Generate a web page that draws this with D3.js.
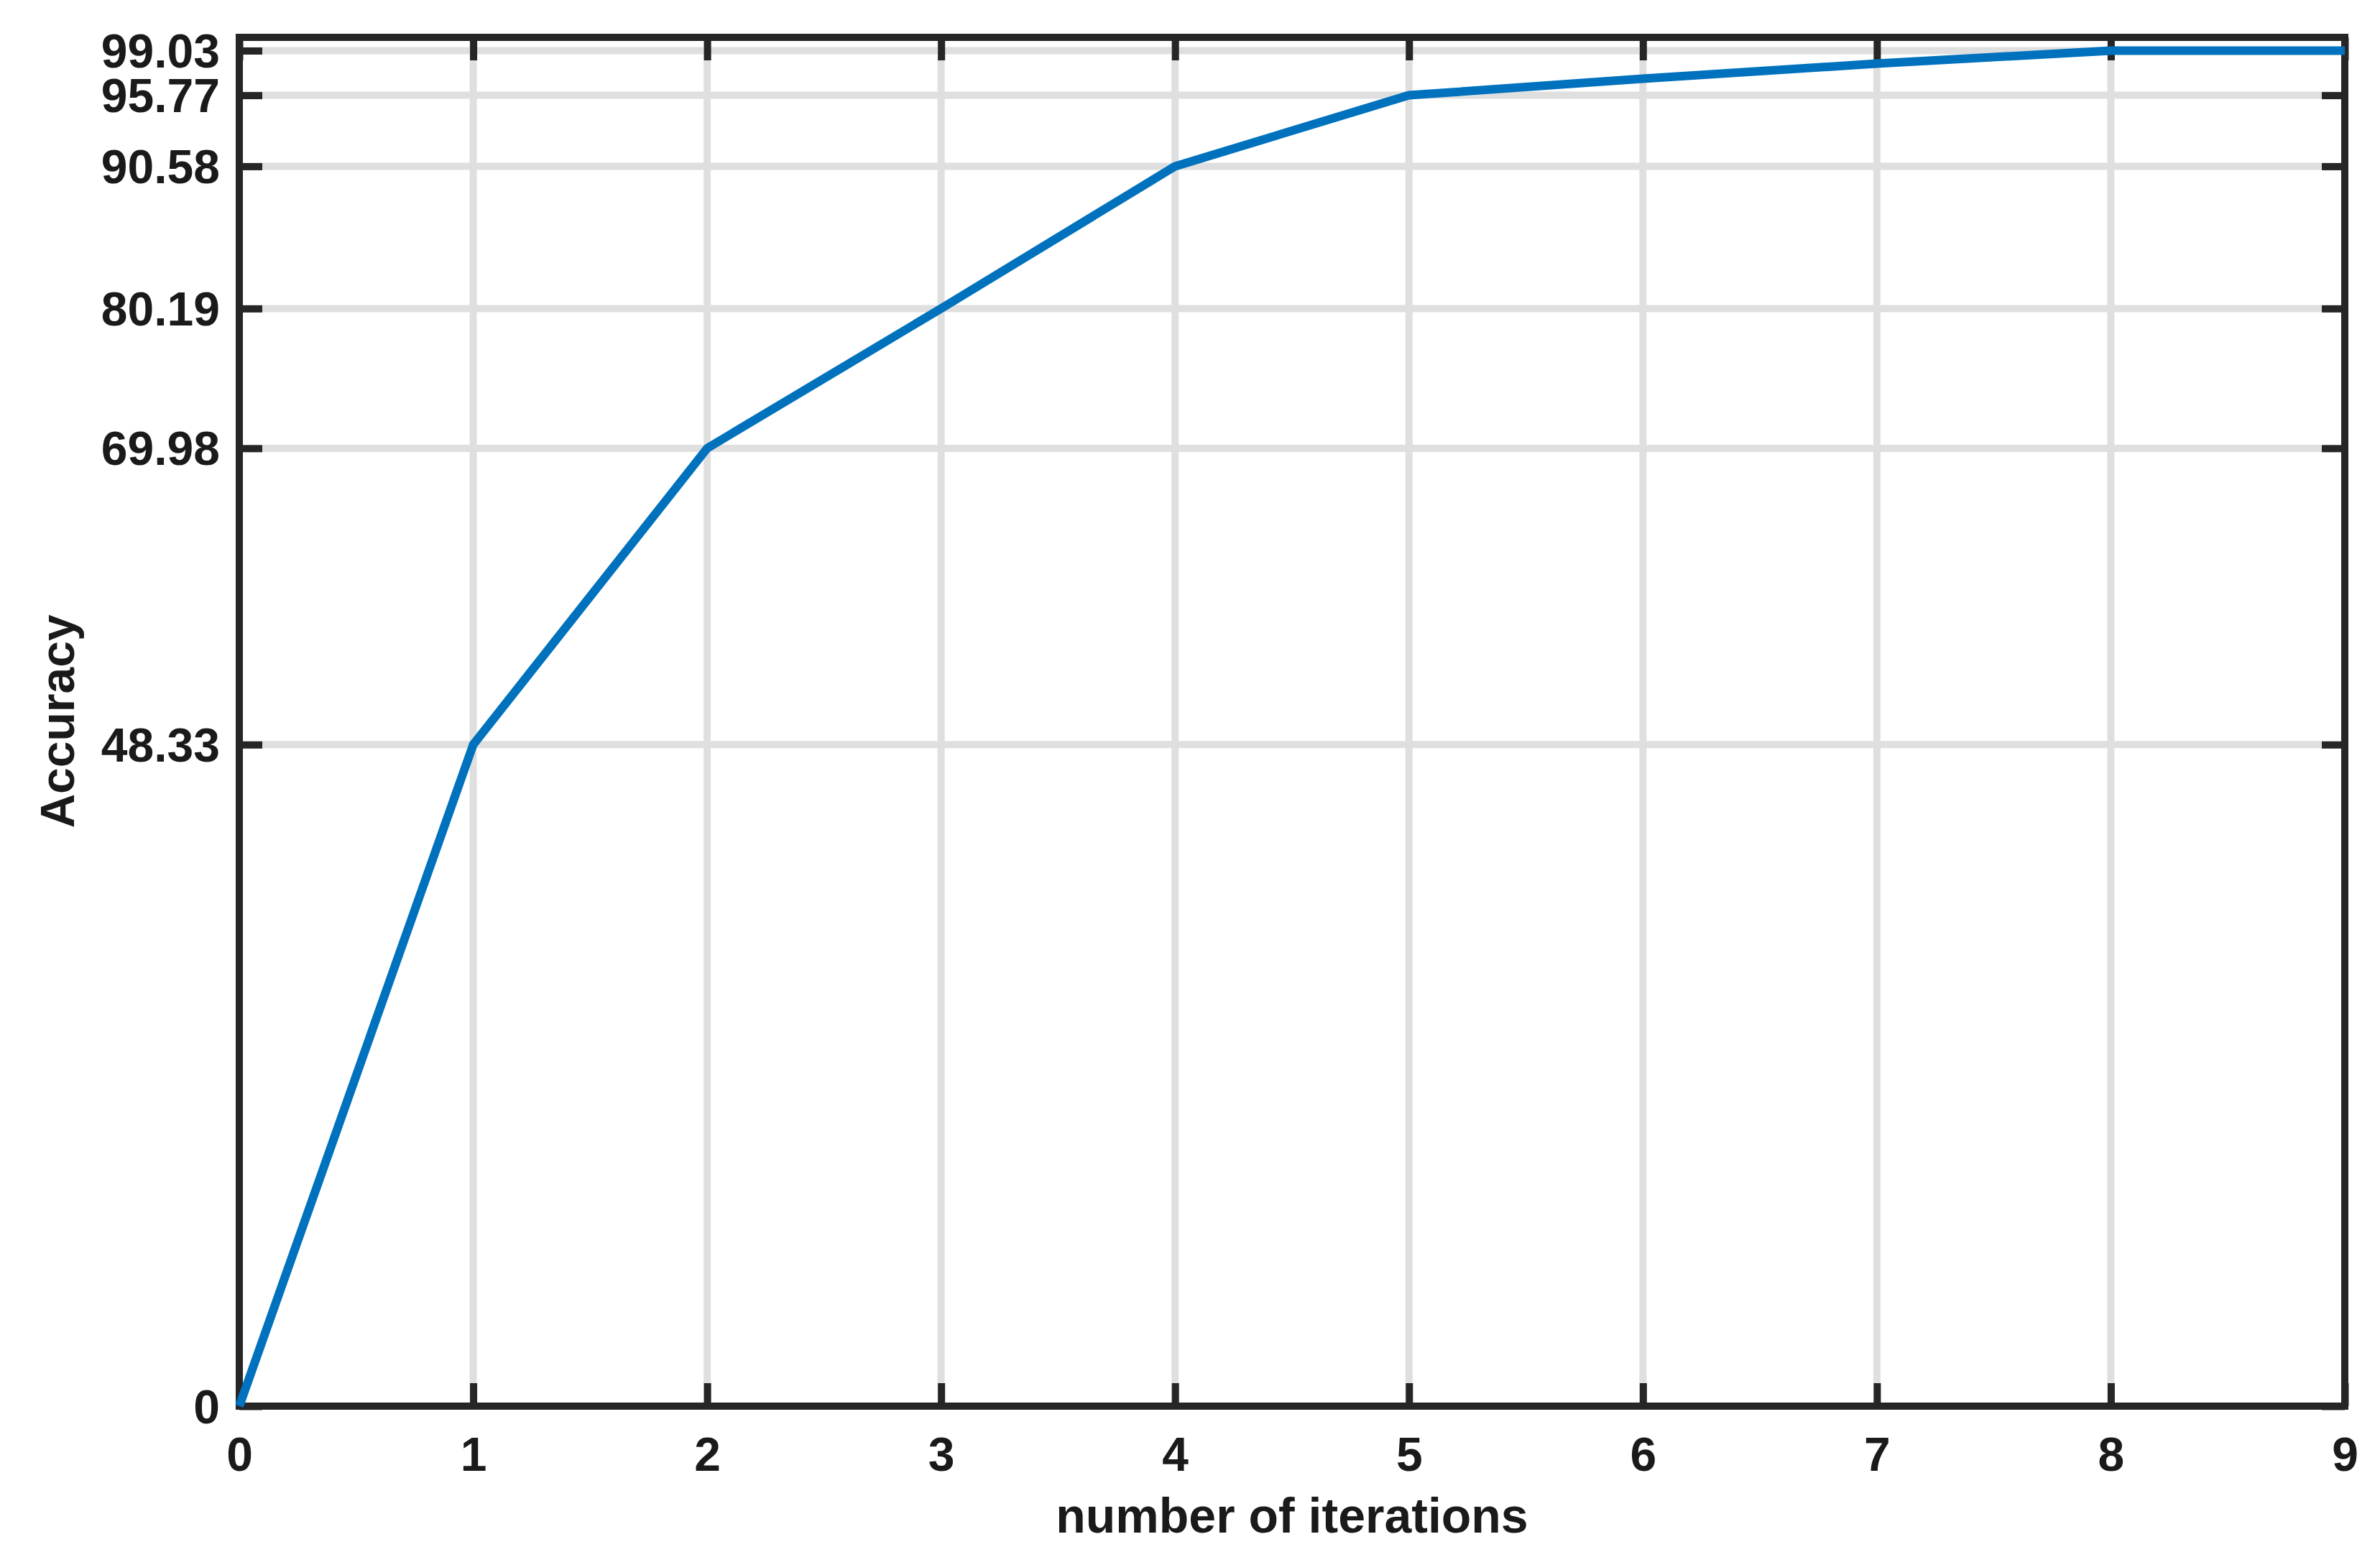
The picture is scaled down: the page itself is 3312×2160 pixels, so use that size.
<!DOCTYPE html>
<html>
<head>
<meta charset="utf-8">
<script src="https://cdn.jsdelivr.net/npm/d3@7"></script>
<style>
  html, body { margin: 0; padding: 0; background: #ffffff; }
  svg { display: block; }
</style>
</head>
<body>
<svg id="chart" width="3312" height="2160"></svg>
<script>
// ---- data ----
const iterations = [0, 1, 2, 3, 4, 5, 6, 7, 8, 9];
const accuracy   = [0, 48.33, 69.98, 80.19, 90.58, 95.77, 96.98, 98.08, 99.03, 99.03];
const yTickValues = [0, 48.33, 69.98, 80.19, 90.58, 95.77, 99.03];
const xTickValues = [0, 1, 2, 3, 4, 5, 6, 7, 8, 9];
const xLabel = "number of iterations";
const yLabel = "Accuracy";

// ---- layout ----
const W = 3312, H = 2160;
const margin = { left: 333, right: W - 3263, top: 52, bottom: H - 1957 };
const innerW = W - margin.left - margin.right;
const innerH = H - margin.top - margin.bottom;

const svg = d3.select("#chart");
svg.append("rect").attr("width", W).attr("height", H).attr("fill", "#ffffff");
const g = svg.append("g").attr("transform", `translate(${margin.left},${margin.top})`);

const x = d3.scaleLinear().domain([0, 9]).range([0, innerW]);
const y = d3.scaleLinear().domain([0, 100]).range([innerH, 0]);

const font = "'Liberation Sans', Arial, Helvetica, sans-serif";
const axisColor = "#262626";
const gridColor = "#dfdfdf";
const tickLen = 32;

// grid
g.append("g").selectAll("line.gx").data(xTickValues.slice(1, -1)).join("line")
  .attr("x1", d => x(d)).attr("x2", d => x(d))
  .attr("y1", 0).attr("y2", innerH)
  .attr("stroke", gridColor).attr("stroke-width", 10);
g.append("g").selectAll("line.gy").data(yTickValues.slice(1)).join("line")
  .attr("x1", 0).attr("x2", innerW)
  .attr("y1", d => y(d)).attr("y2", d => y(d))
  .attr("stroke", gridColor).attr("stroke-width", 10);

// axes (inward ticks) via d3 axes
function styleAxis(sel) {
  sel.select(".domain").remove();
  sel.selectAll(".tick line").attr("stroke", axisColor).attr("stroke-width", 10);
  sel.selectAll(".tick text")
    .attr("fill", "#1a1a1a")
    .attr("font-family", font)
    .attr("font-weight", "bold")
    .attr("font-size", 66);
}

const xAxisB = g.append("g").attr("transform", `translate(0,${innerH})`)
  .call(d3.axisBottom(x).tickValues(xTickValues).tickFormat(d3.format("d"))
        .tickSizeInner(-tickLen).tickSizeOuter(0).tickPadding(tickLen + 58));
styleAxis(xAxisB);
xAxisB.selectAll(".tick text").attr("dy", 0).attr("y", 90);

const xAxisT = g.append("g")
  .call(d3.axisTop(x).tickValues(xTickValues).tickFormat("")
        .tickSizeInner(-tickLen).tickSizeOuter(0));
styleAxis(xAxisT);

const yAxisL = g.append("g")
  .call(d3.axisLeft(y).tickValues(yTickValues)
        .tickFormat(d => d === 0 ? "0" : d3.format(".2f")(d))
        .tickSizeInner(-tickLen).tickSizeOuter(0));
styleAxis(yAxisL);
yAxisL.selectAll(".tick text").attr("x", -27).attr("dy", 0).attr("y", 23);

const yAxisR = g.append("g").attr("transform", `translate(${innerW},0)`)
  .call(d3.axisRight(y).tickValues(yTickValues).tickFormat("")
        .tickSizeInner(-tickLen).tickSizeOuter(0));
styleAxis(yAxisR);

// frame
g.append("rect").attr("x", 0).attr("y", 0).attr("width", innerW).attr("height", innerH)
  .attr("fill", "none").attr("stroke", axisColor).attr("stroke-width", 10);

// line
const line = d3.line().x((d, i) => x(iterations[i])).y(d => y(d));
g.append("path").datum(accuracy)
  .attr("d", line)
  .attr("fill", "none")
  .attr("stroke", "#0072BD")
  .attr("stroke-width", 12)
  .attr("stroke-linejoin", "round");

// axis titles
svg.append("text")
  .attr("x", margin.left + innerW / 2 - 0)
  .attr("y", 2133)
  .attr("text-anchor", "middle")
  .attr("font-family", font).attr("font-weight", "bold").attr("font-size", 68)
  .attr("fill", "#1a1a1a")
  .text(xLabel);

svg.append("text")
  .attr("transform", `translate(103,1004) rotate(-90)`)
  .attr("text-anchor", "middle")
  .attr("font-family", font).attr("font-weight", "bold").attr("font-size", 66)
  .attr("fill", "#1a1a1a")
  .text(yLabel);
</script>
</body>
</html>
